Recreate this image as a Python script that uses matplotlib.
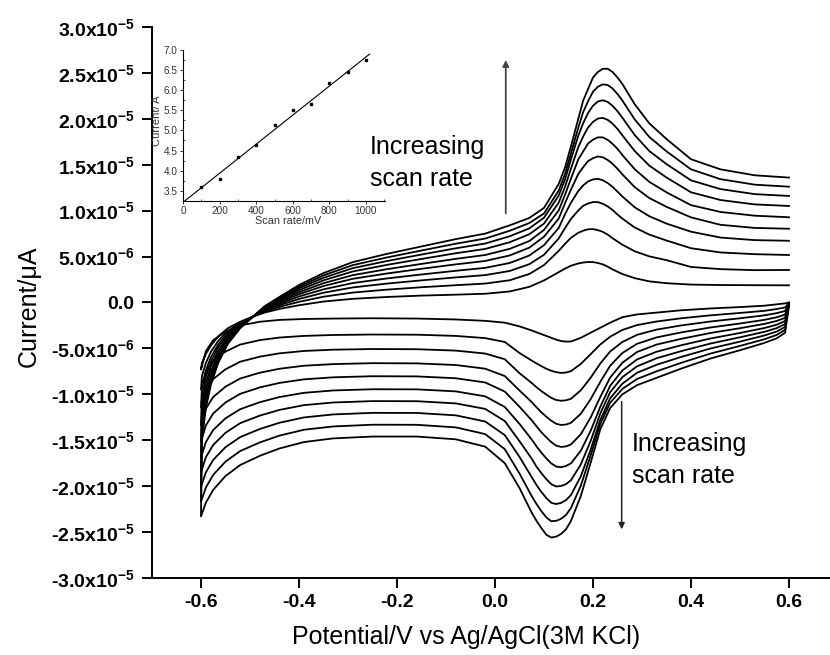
"""
Cyclic voltammograms recorded at ten scan rates (100-1000 mV/s),
with an inset of anodic peak current against scan rate.
"""

import numpy as np
import matplotlib
matplotlib.use("Agg")
import matplotlib.pyplot as plt
from matplotlib.ticker import MultipleLocator

plt.rcParams["font.family"] = "Liberation Sans"
plt.rcParams["mathtext.fontset"] = "custom"
plt.rcParams["mathtext.rm"] = "Liberation Sans:bold"
plt.rcParams["mathtext.it"] = "Liberation Sans:bold"
plt.rcParams["mathtext.bf"] = "Liberation Sans:bold"

UA = 1e-6   # currents below are tabulated in µA

# ── Inset data: anodic peak current vs scan rate ────────────────────────
SCAN_RATES   = [100, 200, 300, 400, 500, 600, 700, 800, 900, 1000]
PEAK_CURRENT = [3.59, 3.78, 4.33, 4.65, 5.13, 5.50, 5.67, 6.17, 6.45, 6.74]

# ── Reverse (cathodic) sweep, 0.6 V -> -0.6 V ──────────────────────────
E_REV = [0.600, 0.592, 0.575, 0.55, 0.50, 0.44, 0.38, 0.33, 0.29, 0.26,
         0.235, 0.215, 0.195, 0.175, 0.155, 0.145, 0.135, 0.125, 0.115, 0.105,
         0.095, 0.085, 0.075, 0.05, 0.02, -0.02, -0.08, -0.16, -0.25, -0.33,
         -0.39, -0.44, -0.48, -0.52, -0.55, -0.575, -0.59, -0.60]

I_REV = [
    [0.0, -0.1, -0.2, -0.35, -0.5, -0.65, -0.85, -1.1, -1.3, -1.6,
     -2.2, -2.75, -3.3, -3.85, -4.25, -4.26, -4.2, -4.05, -3.85, -3.65,
     -3.45, -3.25, -3.05, -2.6, -2.2, -2.0, -1.85, -1.75, -1.72, -1.75,
     -1.8, -1.9, -2.1, -2.5, -3.2, -4.1, -5.3, -7.3],
    [-0.04, -0.54, -0.71, -0.91, -1.14, -1.40, -1.72, -2.07, -2.46, -2.99,
     -3.73, -4.57, -5.64, -6.70, -7.48, -7.63, -7.67, -7.59, -7.44, -7.22,
     -6.94, -6.64, -6.33, -5.50, -4.30, -3.88, -3.64, -3.51, -3.49, -3.54,
     -3.64, -3.82, -4.10, -4.58, -5.35, -6.33, -7.56, -9.49],
    [-0.08, -0.93, -1.16, -1.40, -1.72, -2.07, -2.50, -2.95, -3.52, -4.30,
     -5.34, -6.64, -8.21, -9.57, -10.49, -10.65, -10.70, -10.62, -10.39, -10.04,
     -9.66, -9.24, -8.77, -7.70, -6.18, -5.56, -5.24, -5.09, -5.07, -5.14,
     -5.28, -5.54, -5.90, -6.45, -7.28, -8.34, -9.59, -11.46],
    [-0.11, -1.32, -1.61, -1.89, -2.29, -2.72, -3.26, -3.80, -4.50, -5.50,
     -6.89, -8.64, -10.55, -12.13, -13.11, -13.29, -13.34, -13.21, -12.88, -12.45,
     -11.97, -11.43, -10.85, -9.58, -8.01, -7.21, -6.81, -6.63, -6.61, -6.71,
     -6.89, -7.22, -7.65, -8.28, -9.17, -10.29, -11.57, -13.38],
    [-0.15, -1.67, -2.01, -2.33, -2.80, -3.32, -3.96, -4.58, -5.39, -6.56,
     -8.18, -10.28, -12.55, -14.36, -15.46, -15.67, -15.73, -15.59, -15.21, -14.70,
     -14.15, -13.50, -12.83, -11.35, -9.70, -8.71, -8.25, -8.05, -8.03, -8.15,
     -8.37, -8.76, -9.25, -9.95, -10.89, -12.09, -13.39, -15.14],
    [-0.18, -2.02, -2.42, -2.78, -3.32, -3.92, -4.66, -5.36, -6.20, -7.40,
     -9.08, -11.35, -14.00, -16.16, -17.52, -17.80, -17.94, -17.87, -17.53, -16.99,
     -16.38, -15.69, -14.92, -13.22, -11.38, -10.22, -9.68, -9.46, -9.45, -9.58,
     -9.84, -10.30, -10.86, -11.62, -12.62, -13.88, -15.20, -16.90],
    [-0.21, -2.34, -2.79, -3.19, -3.79, -4.47, -5.30, -6.07, -6.95, -8.13,
     -9.77, -12.08, -15.11, -17.65, -19.36, -19.78, -19.98, -20.04, -19.79, -19.25,
     -18.61, -17.90, -17.01, -15.10, -12.91, -11.59, -10.99, -10.75, -10.74, -10.89,
     -11.18, -11.70, -12.32, -13.14, -14.19, -15.51, -16.85, -18.50],
    [-0.24, -2.66, -3.16, -3.59, -4.26, -5.01, -5.93, -6.78, -7.65, -8.84,
     -10.44, -12.79, -16.06, -18.95, -20.97, -21.52, -21.82, -21.95, -21.82, -21.31,
     -20.65, -19.90, -19.02, -16.81, -14.44, -12.96, -12.29, -12.03, -12.02, -12.19,
     -12.52, -13.10, -13.78, -14.66, -15.76, -17.14, -18.50, -20.10],
    [-0.27, -2.98, -3.53, -4.00, -4.73, -5.56, -6.57, -7.49, -8.33, -9.41,
     -10.93, -13.22, -16.70, -19.98, -22.38, -23.14, -23.55, -23.78, -23.82, -23.42,
     -22.74, -21.97, -21.09, -18.62, -15.97, -14.33, -13.60, -13.32, -13.31, -13.50,
     -13.86, -14.50, -15.24, -16.18, -17.33, -18.77, -20.15, -21.70],
    [-0.3, -3.3, -3.9, -4.4, -5.2, -6.1, -7.2, -8.2, -9.0, -10.0,
     -11.5, -13.8, -17.5, -21.1, -23.8, -24.7, -25.2, -25.5, -25.6, -25.3,
     -24.6, -23.8, -22.9, -20.2, -17.5, -15.7, -14.9, -14.6, -14.6, -14.8,
     -15.2, -15.9, -16.7, -17.7, -18.9, -20.4, -21.8, -23.3],
]

# ── Forward (anodic) sweep, -0.6 V -> 0.6 V ────────────────────────────
E_FWD = [-0.598, -0.59, -0.58, -0.565, -0.545, -0.52, -0.497, -0.47, -0.44, -0.40,
         -0.35, -0.29, -0.22, -0.15, -0.08, -0.02, 0.03, 0.07, 0.10, 0.13,
         0.143, 0.155, 0.17, 0.18, 0.19, 0.20, 0.21, 0.22, 0.23, 0.24,
         0.25, 0.26, 0.285, 0.315, 0.35, 0.40, 0.46, 0.53, 0.60]

I_FWD = [
    [-6.6, -5.6, -4.7, -3.7, -2.8, -2.1, -1.6, -1.1, -0.7, -0.3,
     0.1, 0.4, 0.6, 0.75, 0.85, 0.95, 1.2, 1.7, 2.4, 3.3,
     3.69, 4.0, 4.25, 4.35, 4.41, 4.4, 4.3, 4.15, 3.9, 3.6,
     3.35, 3.1, 2.65, 2.3, 2.1, 1.95, 1.9, 1.88, 1.87],
    [-8.0, -6.6, -5.4, -4.2, -3.1, -2.2, -1.62, -0.98, -0.48, 0.07,
     0.63, 1.08, 1.40, 1.66, 1.88, 2.06, 2.42, 3.10, 4.07, 5.62,
     6.39, 7.04, 7.59, 7.82, 7.97, 7.99, 7.88, 7.69, 7.39, 7.00,
     6.64, 6.29, 5.58, 5.02, 4.61, 3.87, 3.63, 3.52, 3.54],
    [-9.2, -7.4, -6.0, -4.6, -3.3, -2.3, -1.63, -0.88, -0.30, 0.38,
     1.06, 1.64, 2.06, 2.41, 2.73, 2.98, 3.43, 4.17, 5.19, 6.97,
     8.11, 9.10, 10.02, 10.53, 10.78, 10.93, 10.93, 10.75, 10.46, 10.07,
     9.58, 9.13, 8.17, 7.39, 6.75, 5.91, 5.45, 5.26, 5.17],
    [-10.2, -8.1, -6.5, -4.9, -3.5, -2.4, -1.64, -0.80, -0.14, 0.65,
     1.43, 2.12, 2.62, 3.05, 3.45, 3.77, 4.30, 5.11, 6.24, 8.11,
     9.62, 10.86, 12.14, 12.75, 13.18, 13.40, 13.47, 13.31, 13.01, 12.59,
     12.07, 11.54, 10.37, 9.39, 8.59, 7.71, 7.07, 6.79, 6.72],
    [-11.2, -8.8, -7.0, -5.3, -3.7, -2.5, -1.65, -0.72, 0.01, 0.90,
     1.79, 2.58, 3.16, 3.67, 4.15, 4.52, 5.12, 5.97, 7.16, 9.13,
     10.82, 12.29, 13.99, 14.73, 15.40, 15.71, 15.90, 15.81, 15.52, 15.10,
     14.56, 13.95, 12.57, 11.37, 10.42, 9.27, 8.46, 8.12, 8.03],
    [-12.0, -9.4, -7.5, -5.6, -3.9, -2.55, -1.66, -0.65, 0.14, 1.12,
     2.10, 2.98, 3.63, 4.20, 4.75, 5.17, 5.84, 6.69, 7.90, 10.02,
     11.74, 13.48, 15.58, 16.45, 17.31, 17.73, 17.98, 17.98, 17.71, 17.27,
     16.74, 16.05, 14.52, 13.13, 12.00, 10.60, 9.86, 9.45, 9.28],
    [-12.9, -10.0, -7.9, -5.9, -4.1, -2.6, -1.67, -0.58, 0.27, 1.34,
     2.41, 3.38, 4.10, 4.74, 5.36, 5.83, 6.56, 7.43, 8.59, 10.86,
     12.60, 14.57, 16.91, 18.09, 19.05, 19.67, 20.03, 20.10, 19.89, 19.47,
     18.90, 18.20, 16.50, 14.90, 13.61, 12.00, 11.16, 10.68, 10.51],
    [-13.6, -10.5, -8.3, -6.1, -4.2, -2.7, -1.68, -0.52, 0.39, 1.54,
     2.69, 3.74, 4.52, 5.22, 5.90, 6.42, 7.21, 8.07, 9.23, 11.63,
     13.40, 15.57, 18.15, 19.53, 20.64, 21.42, 21.89, 22.02, 21.84, 21.41,
     20.83, 20.12, 18.24, 16.49, 15.07, 13.30, 12.35, 11.80, 11.60],
    [-14.3, -11.0, -8.6, -6.4, -4.4, -2.75, -1.69, -0.46, 0.49, 1.72,
     2.95, 4.07, 4.91, 5.66, 6.40, 6.96, 7.81, 8.65, 9.69, 12.18,
     14.00, 16.23, 19.03, 20.75, 21.91, 22.95, 23.49, 23.75, 23.68, 23.30,
     22.70, 21.99, 19.95, 18.02, 16.46, 14.50, 13.43, 12.83, 12.61],
    [-15.0, -11.5, -9.0, -6.6, -4.5, -2.8, -1.7, -0.4, 0.6, 1.9,
     3.2, 4.4, 5.3, 6.1, 6.9, 7.5, 8.4, 9.2, 10.3, 12.9,
     14.7, 17.0, 20.0, 22.0, 23.25, 24.5, 25.1, 25.45, 25.45, 25.1,
     24.5, 23.8, 21.6, 19.5, 17.8, 15.6, 14.5, 13.85, 13.6],
]

X_TICKS = [-0.6, -0.4, -0.2, 0.0, 0.2, 0.4, 0.6]
X_TICKLABELS = ["-0.6", "-0.4", "-0.2", "0.0", "0.2", "0.4", "0.6"]
Y_TICKS = [3.0e-5, 2.5e-5, 2.0e-5, 1.5e-5, 1.0e-5, 5.0e-6, 0.0,
           -5.0e-6, -1.0e-5, -1.5e-5, -2.0e-5, -2.5e-5, -3.0e-5]
Y_TICKLABELS = ["3.0x10$^{-5}$", "2.5x10$^{-5}$", "2.0x10$^{-5}$",
                "1.5x10$^{-5}$", "1.0x10$^{-5}$", "5.0x10$^{-6}$", "0.0",
                "-5.0x10$^{-6}$", "-1.0x10$^{-5}$", "-1.5x10$^{-5}$",
                "-2.0x10$^{-5}$", "-2.5x10$^{-5}$", "-3.0x10$^{-5}$"]


def run() -> None:
    fig = plt.figure(figsize=(8.3, 6.55), dpi=100)
    ax = fig.add_axes([0.1831, 0.1176, 0.8169, 0.8412])

    # ── Voltammograms: reverse sweep then forward sweep for each rate ──
    for i_rev, i_fwd in zip(I_REV, I_FWD):
        e = np.array(E_REV + E_FWD)
        i = np.array(i_rev + i_fwd) * UA
        ax.plot(e, i, color="black", lw=1.3, solid_joinstyle="round")

    ax.set_xlim(-0.7, 0.6837)
    ax.set_ylim(-3.0e-5, 3.0e-5)
    ax.set_xticks(X_TICKS)
    ax.set_xticklabels(X_TICKLABELS)
    ax.set_yticks(Y_TICKS)
    ax.set_yticklabels(Y_TICKLABELS)
    for lbl in ax.get_xticklabels() + ax.get_yticklabels():
        lbl.set_fontweight("bold")
    ax.tick_params(axis="both", direction="out", length=7.5, width=1.4,
                   labelsize=14)
    ax.tick_params(axis="y", pad=5)
    ax.tick_params(axis="x", pad=4)
    for side in ("top", "right"):
        ax.spines[side].set_visible(False)
    for side in ("left", "bottom"):
        ax.spines[side].set_linewidth(1.4)

    ax.set_xlabel("Potential/V vs Ag/AgCl(3M KCl)", fontsize=18)
    ax.set_ylabel("Current/\u03bcA", fontsize=18)
    ax.xaxis.set_label_coords(0.463, -0.086)
    ax.yaxis.set_label_coords(-0.164, 0.494)

    # ── Scan-rate annotations ───────────────────────────────────────────
    ax.annotate("", xy=(0.022, 26.4 * UA), xytext=(0.022, 9.7 * UA),
                arrowprops=dict(arrowstyle="-|>", color="#444444", lw=1.3,
                                mutation_scale=9, shrinkA=0, shrinkB=0))
    ax.text(-0.255, 18.28 * UA, "Increasing\nscan rate", fontsize=18,
            ha="left", va="top", linespacing=1.42)

    ax.annotate("", xy=(0.2585, -24.7 * UA), xytext=(0.2585, -10.8 * UA),
                arrowprops=dict(arrowstyle="-|>", color="#222222", lw=1.1,
                                mutation_scale=9, shrinkA=0, shrinkB=0))
    ax.text(0.279, -14.07 * UA, "Increasing\nscan rate", fontsize=18,
            ha="left", va="top", linespacing=1.42)

    # ── Inset: peak current vs scan rate with linear fit ────────────────
    ins = fig.add_axes([0.2205, 0.6931, 0.2434, 0.2305])
    ins.plot(SCAN_RATES, PEAK_CURRENT, ls="none", marker="s", ms=2.0,
             color="black")
    slope, icpt = np.polyfit(SCAN_RATES, PEAK_CURRENT, 1)
    xfit = np.array([0.0, 1020.0])
    ins.plot(xfit, slope * xfit + icpt, color="black", lw=0.8)

    ins.set_xlim(0, 1104)
    ins.set_ylim(3.244, 7.0)
    ins.set_xticks([0, 200, 400, 600, 800, 1000])
    ins.set_yticks([3.5, 4.0, 4.5, 5.0, 5.5, 6.0, 6.5, 7.0])
    ins.xaxis.set_minor_locator(MultipleLocator(100))
    ins.yaxis.set_minor_locator(MultipleLocator(0.25))
    ins.tick_params(which="major", direction="out", length=2.5, width=0.7,
                    labelsize=7.2, pad=1.2, colors="#333333")
    ins.tick_params(which="minor", direction="in", length=1.5, width=0.6,
                    colors="#333333")
    for side in ("top", "right"):
        ins.spines[side].set_visible(False)
    for side in ("left", "bottom"):
        ins.spines[side].set_linewidth(0.8)
    ins.patch.set_alpha(0.0)
    ins.set_xlabel("Scan rate/mV", fontsize=7.8, color="#333333")
    ins.set_ylabel("Current/ A", fontsize=8, color="#333333")
    ins.xaxis.set_label_coords(0.52, -0.10)
    ins.yaxis.set_label_coords(-0.105, 0.53)

    fig.savefig("out.png", dpi=100)


if __name__ == "__main__":
    run()
